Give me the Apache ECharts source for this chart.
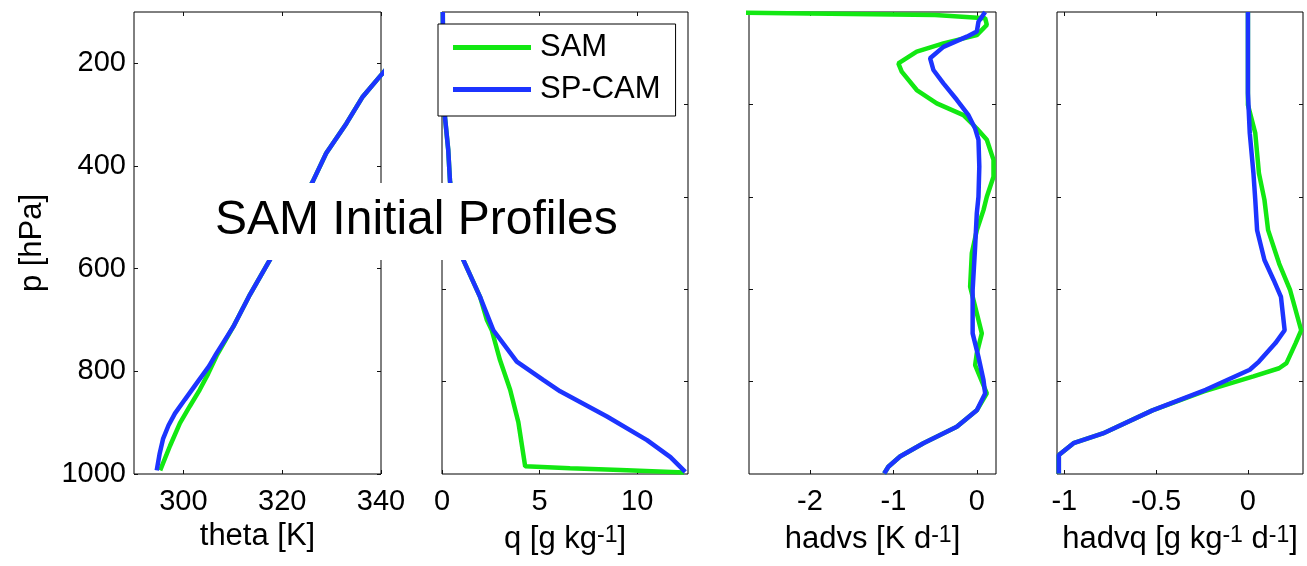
<!DOCTYPE html>
<html>
<head>
<meta charset="utf-8">
<title>SAM Initial Profiles</title>
<script src="https://cdn.jsdelivr.net/npm/echarts@6/dist/echarts.min.js"></script>
<style>
    html, body { margin: 0; padding: 0; background: #fff; }
    #chart { width: 1307px; height: 566px; }
</style>
</head>
<body>
<div id="chart"></div>
<script>
// profiles, pairs are [value, pressure hPa]
const thetaSam = [[343, 190], [340, 223], [336.3, 265], [333, 317], [328.9, 375], [326.2, 430], [322, 505], [317.5, 583], [313.5, 650], [310.1, 713], [306.7, 770], [305, 805], [303.3, 836], [301.3, 868], [299.3, 901], [297.3, 945], [295.3, 993]]
const thetaSpcam = [[343, 190], [340, 223], [336.3, 265], [333, 317], [328.9, 375], [326.2, 430], [322, 505], [317.5, 583], [313.5, 650], [310.1, 713], [306.7, 765], [305.2, 790], [302.7, 823], [300.3, 855], [298.3, 882], [297, 905], [295.9, 931], [295.2, 960], [294.6, 993]]

const qSam = [[0.04, 100], [0.05, 150], [0.08, 200], [0.12, 250], [0.15, 304], [0.32, 369], [0.41, 430], [0.7, 510], [1.09, 583], [1.95, 655], [2.3, 700], [2.55, 720], [2.97, 778], [3.32, 817], [3.49, 836], [3.91, 899], [4.26, 985], [6.56, 989], [9.13, 992], [12.4, 997]]
const qSpcam = [[0.04, 100], [0.05, 150], [0.08, 200], [0.12, 250], [0.15, 304], [0.32, 369], [0.41, 430], [0.7, 510], [1.09, 583], [1.95, 655], [2.63, 720], [3.83, 781], [5.2, 817], [6.05, 839], [8.45, 888], [10.5, 934], [11.7, 967], [12.46, 996]]

const hadvsSam = [[-3.4, 100], [-0.5, 106], [0.1, 112], [0.12, 125], [0, 145], [-0.4, 161], [-0.72, 177], [-0.94, 200], [-0.9, 216], [-0.72, 252], [-0.48, 278], [-0.16, 301], [0, 327], [0.12, 349], [0.2, 388], [0.2, 421], [0.12, 460], [0.08, 486], [0, 525], [-0.06, 570], [-0.08, 635], [0, 687], [0.06, 726], [0, 765], [-0.02, 788], [0.12, 843], [0, 876], [-0.24, 908], [-0.64, 940], [-0.92, 966], [-1.06, 986], [-1.11, 999]]
const hadvsSpcam = [[0.1, 100], [0.02, 119], [0, 138], [-0.12, 148], [-0.4, 168], [-0.56, 190], [-0.52, 213], [-0.4, 239], [-0.24, 271], [-0.1, 301], [-0.02, 327], [0.02, 349], [0.03, 401], [0.02, 460], [0, 492], [-0.02, 557], [-0.05, 642], [-0.05, 726], [0.02, 772], [0.08, 817], [0.1, 843], [0, 876], [-0.24, 908], [-0.64, 940], [-0.92, 966], [-1.06, 986], [-1.11, 999]]

const hadvqSam = [[0, 100], [0, 281], [0.04, 336], [0.06, 414], [0.09, 466], [0.11, 525], [0.17, 590], [0.23, 642], [0.29, 720], [0.26, 745], [0.21, 784], [0.17, 794], [0.03, 810], [-0.24, 839], [-0.52, 876], [-0.79, 921], [-0.95, 940], [-1.03, 963], [-1.03, 999]]
const hadvqSpcam = [[0, 100], [0, 258], [0.01, 336], [0.03, 414], [0.04, 466], [0.05, 525], [0.09, 583], [0.14, 622], [0.18, 655], [0.2, 720], [0.15, 745], [0.06, 781], [0.01, 797], [-0.23, 836], [-0.52, 876], [-0.79, 921], [-0.95, 940], [-1.03, 963], [-1.03, 999]]

// tick values
const pTicks = [200, 400, 600, 800, 1000]
const pTicksOther = [280, 460, 640, 820]
const thetaTicks = [300, 320, 340]
const qTicks = [0, 5, 10]
const hadvsTicks = [-2, -1, 0]
const hadvqTicks = [-1, -0.5, 0]

const FONT = "Liberation Sans, Arial, sans-serif"
const GREEN = "#12e812"
const BLUE = "#1c34ff"

const panels = [
    { left: 134, width: 247, min: 290, max: 340, ticks: thetaTicks, gap: 44, name: "{b|theta [K]}", sam: thetaSam, spcam: thetaSpcam },
    { left: 442, width: 246, min: 0, max: 12.6, ticks: qTicks, gap: 50, name: "{b|q [g kg}{sup|-1}{b|]}", sam: qSam, spcam: qSpcam },
    { left: 749, width: 247, min: -2.73, max: 0.23, ticks: hadvsTicks, gap: 50, name: "{b|hadvs [K d}{sup|-1}{b|]}", sam: hadvsSam, spcam: hadvsSpcam },
    { left: 1057, width: 246, min: -1.04, max: 0.3, ticks: hadvqTicks, gap: 50, name: "{b|hadvq [g kg}{sup|-1}{b| d}{sup|-1}{b|]}", sam: hadvqSam, spcam: hadvqSpcam },
]

const tick = values => ({
    show: true,
    inside: true,
    length: 4,
    customValues: values,
    lineStyle: { color: "#111", width: 1 },
})

// no axis line: the grid border draws the box, and keep axes off the zero line
const noLine = { show: false, onZero: false }

const nameStyle = {
    color: "#000",
    fontFamily: FONT,
    fontSize: 31,
    rich: {
        b: { fontFamily: FONT, fontSize: 31, lineHeight: 31, verticalAlign: "bottom", color: "#000" },
        sup: { fontFamily: FONT, fontSize: 23, lineHeight: 21, verticalAlign: "top", color: "#000" },
    },
}

const grids = []
const xAxes = []
const yAxes = []
const series = []

panels.forEach((pn, i) => {
    grids.push({
        left: pn.left,
        top: 12,
        width: pn.width,
        height: 462,
        show: true,
        borderColor: "#000",
        borderWidth: 1,
        backgroundColor: "transparent",
    })
    // bottom axis with labels
    xAxes.push({
        gridIndex: i,
        type: "value",
        position: "bottom",
        min: pn.min,
        max: pn.max,
        name: pn.name,
        nameLocation: "middle",
        nameGap: pn.gap,
        nameTextStyle: nameStyle,
        axisLine: noLine,
        axisTick: tick(pn.ticks),
        splitLine: { show: false },
        axisLabel: {
            customValues: pn.ticks,
            showMinLabel: true,
            showMaxLabel: true,
            margin: 13,
            color: "#000",
            fontFamily: FONT,
            fontSize: 29,
            formatter: v => String(v),
        },
    })
    // top axis, ticks only
    xAxes.push({
        gridIndex: i,
        type: "value",
        position: "top",
        min: pn.min,
        max: pn.max,
        axisLine: noLine,
        axisTick: tick(pn.ticks),
        axisLabel: { show: false },
        splitLine: { show: false },
    })

    const yt = i === 0 ? pTicks : pTicksOther
    yAxes.push({
        gridIndex: i,
        type: "value",
        position: "left",
        inverse: true,
        min: 100,
        max: 1000,
        name: i === 0 ? "p [hPa]" : "",
        nameLocation: "middle",
        nameRotate: 90,
        nameGap: 86,
        nameTextStyle: { color: "#000", fontFamily: FONT, fontSize: 31 },
        axisLine: noLine,
        axisTick: tick(yt),
        splitLine: { show: false },
        axisLabel: {
            show: i === 0,
            customValues: yt,
            showMinLabel: true,
            showMaxLabel: true,
            margin: 8,
            color: "#000",
            fontFamily: FONT,
            fontSize: 29,
            formatter: v => String(v),
        },
    })
    yAxes.push({
        gridIndex: i,
        type: "value",
        position: "right",
        inverse: true,
        min: 100,
        max: 1000,
        axisLine: noLine,
        axisTick: tick(yt),
        axisLabel: { show: false },
        splitLine: { show: false },
    })

    // SAM first so SP-CAM sits on top
    series.push({
        name: "SAM",
        type: "line",
        xAxisIndex: i * 2,
        yAxisIndex: i * 2,
        data: pn.sam,
        showSymbol: false,
        symbol: "none",
        clip: true,
        lineStyle: { color: GREEN, width: 4.5 },
        itemStyle: { color: GREEN },
    })
    series.push({
        name: "SP-CAM",
        type: "line",
        xAxisIndex: i * 2,
        yAxisIndex: i * 2,
        data: pn.spcam,
        showSymbol: false,
        symbol: "none",
        clip: true,
        lineStyle: { color: BLUE, width: 4.5 },
        itemStyle: { color: BLUE },
    })
})

const chart = echarts.init(document.getElementById("chart"), null, { renderer: "canvas" })

const option = {
    animation: false,
    backgroundColor: "#fff",
    title: {
        text: "SAM Initial Profiles",
        left: 208,
        top: 183,
        backgroundColor: "#fff",
        padding: [14, 8, 15, 7],
        textStyle: {
            color: "#000",
            fontFamily: FONT,
            fontSize: 48,
            fontWeight: "normal",
        },
    },
    legend: {
        data: ["SAM", "SP-CAM"],
        orient: "vertical",
        left: 438,
        top: 24,
        padding: [8, 15, 11, 15],
        itemGap: 11,
        itemWidth: 78,
        itemHeight: 5,
        icon: "rect",
        selectedMode: false,
        backgroundColor: "#fff",
        borderColor: "#000",
        borderWidth: 1,
        textStyle: {
            color: "#000",
            fontFamily: FONT,
            fontSize: 31,
            padding: [0, 0, 0, 4],
        },
    },
    grid: grids,
    xAxis: xAxes,
    yAxis: yAxes,
    series: series,
}

chart.setOption(option, true)
</script>
</body>
</html>
